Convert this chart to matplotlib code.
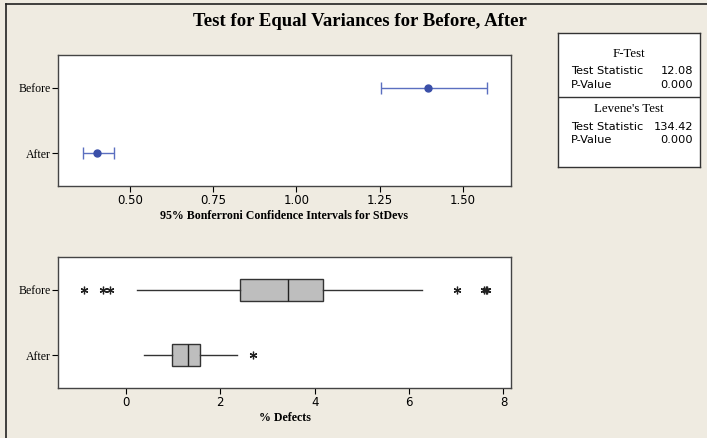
import numpy as np
import matplotlib
matplotlib.use("Agg")
import matplotlib.pyplot as plt
from matplotlib.lines import Line2D

# Data
groups = ["Before", "After"]
ci_est = [1.396, 0.401]
ci_low = [1.253, 0.359]
ci_high = [1.573, 0.451]

box_whislo = [0.23, 0.38]
box_q1 = [2.42, 0.98]
box_med = [3.43, 1.32]
box_q3 = [4.17, 1.57]
box_whishi = [6.27, 2.35]
box_fliers = [[-0.89, -0.48, -0.34, 7.01, 7.59, 7.63, 7.66], [2.70]]

ftest_stat = "12.08"
ftest_p = "0.000"
levene_stat = "134.42"
levene_p = "0.000"

bg = "#efebe1"
blue = "#3a4fa8"
serif = "Liberation Serif"
sans = "DejaVu Sans"

fig = plt.figure(figsize=(7.07, 4.38), dpi=100, facecolor=bg)
W, H = 707, 438

def px_axes(x0, y0, x1, y1):
    return fig.add_axes([x0 / W, 1 - y1 / H, (x1 - x0) / W, (y1 - y0) / H])

# frame lines at top and left
fig.add_artist(Line2D([6 / W, 1], [1 - 4 / H, 1 - 4 / H], color="#222222", lw=1.2))
fig.add_artist(Line2D([6 / W, 6 / W], [0, 1 - 4 / H], color="#222222", lw=1.2))

fig.text(360 / W, 1 - 21 / H, "Test for Equal Variances for Before, After",
         ha="center", va="center", family=serif, fontweight="bold", fontsize=13.5)

ypos = [2, 1]

# top panel: confidence intervals
ax1 = px_axes(58, 55, 511, 186)
err = [np.array(ci_est) - np.array(ci_low), np.array(ci_high) - np.array(ci_est)]
ax1.errorbar(ci_est, ypos, xerr=err, fmt="o", color=blue, ecolor="#5b6fc0",
             markersize=5, capsize=4, elinewidth=1, capthick=1)
ax1.set_xlim(0.284, 1.644)
ax1.set_ylim(0.5, 2.5)
ax1.set_xticks([0.50, 0.75, 1.00, 1.25, 1.50])
ax1.set_xticklabels(["0.50", "0.75", "1.00", "1.25", "1.50"])
ax1.set_yticks(ypos)
ax1.set_yticklabels(groups, family=serif, fontsize=8.5)
ax1.set_xlabel("95% Bonferroni Confidence Intervals for StDevs",
               family=serif, fontweight="bold", fontsize=8.6, labelpad=2)

# bottom panel: boxplots
ax2 = px_axes(58, 257, 511, 388)
stats = []
for i in range(len(groups)):
    stats.append(dict(med=box_med[i], q1=box_q1[i], q3=box_q3[i],
                      whislo=box_whislo[i], whishi=box_whishi[i],
                      fliers=box_fliers[i]))
ax2.bxp(stats, positions=ypos, vert=False, widths=0.33, patch_artist=True,
        showcaps=False,
        boxprops=dict(facecolor="#bebebe", edgecolor="#333333", lw=1),
        medianprops=dict(color="#222222", lw=1),
        whiskerprops=dict(color="#333333", lw=1),
        flierprops=dict(marker=(6, 2, 0), markersize=5.5, markeredgecolor="#222222",
                        markeredgewidth=0.9, linestyle="none"))
ax2.set_xlim(-1.44, 8.16)
ax2.set_ylim(0.5, 2.5)
ax2.set_xticks([0, 2, 4, 6, 8])
ax2.set_yticks(ypos)
ax2.set_yticklabels(groups, family=serif, fontsize=8.5)
ax2.set_xlabel("% Defects", family=serif, fontweight="bold", fontsize=8.6, labelpad=2)

for ax in (ax1, ax2):
    ax.set_facecolor("white")
    for s in ax.spines.values():
        s.set_color("#444444")
        s.set_linewidth(1)
    ax.tick_params(axis="x", labelsize=8.5, length=4, width=0.8, pad=2)
    ax.tick_params(axis="y", length=4, width=0.8, pad=1)

# results table
tab = px_axes(558, 33, 700, 167)
tab.set_xlim(558, 700)
tab.set_ylim(167, 33)
tab.set_xticks([])
tab.set_yticks([])
tab.set_facecolor("white")
for s in tab.spines.values():
    s.set_color("#333333")
    s.set_linewidth(1)
tab.axhline(97, color="#333333", lw=1)
fs_s, fs_r = 9.3, 8.2
tab.text(629, 54, "F-Test", ha="center", va="center", family=serif, fontsize=fs_s)
tab.text(571, 71, "Test Statistic", ha="left", va="center", family=sans, fontsize=fs_r)
tab.text(693, 71, ftest_stat, ha="right", va="center", family=sans, fontsize=fs_r)
tab.text(571, 85, "P-Value", ha="left", va="center", family=sans, fontsize=fs_r)
tab.text(693, 85, ftest_p, ha="right", va="center", family=sans, fontsize=fs_r)
tab.text(629, 109, "Levene's Test", ha="center", va="center", family=serif, fontsize=fs_s)
tab.text(571, 127, "Test Statistic", ha="left", va="center", family=sans, fontsize=fs_r)
tab.text(693, 127, levene_stat, ha="right", va="center", family=sans, fontsize=fs_r)
tab.text(571, 140, "P-Value", ha="left", va="center", family=sans, fontsize=fs_r)
tab.text(693, 140, levene_p, ha="right", va="center", family=sans, fontsize=fs_r)

plt.savefig("out.png", dpi=100, facecolor=bg)
